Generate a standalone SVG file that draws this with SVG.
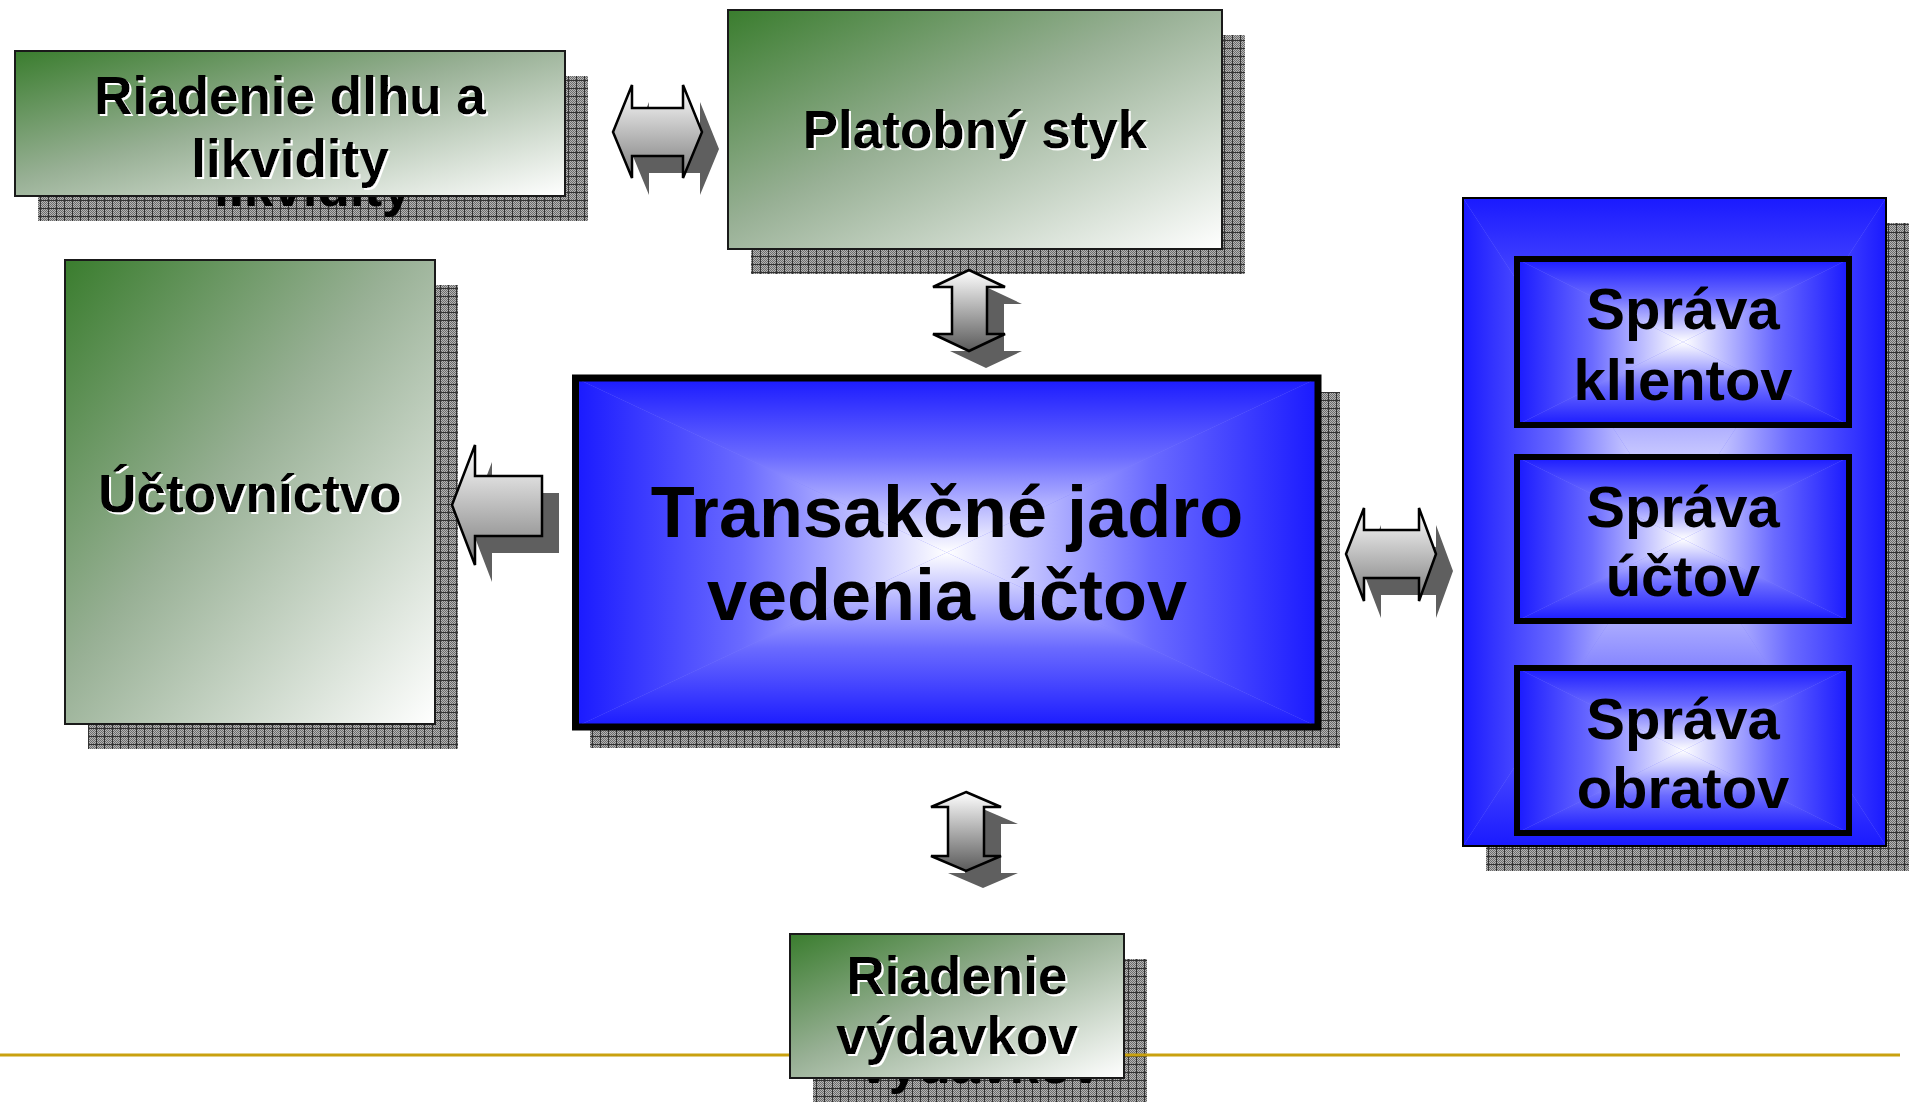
<svg xmlns="http://www.w3.org/2000/svg" width="1912" height="1102" viewBox="0 0 1912 1102">
<defs>
<style>
.t{font-family:"Liberation Sans",Arial,Helvetica,sans-serif;font-weight:bold;fill:#000;text-anchor:middle}
.g{font-size:53px;filter:url(#ws)}
.big{font-size:72px}
.sp{font-size:58px}
.box{stroke:#1a1a1a;stroke-width:2}
.shd{fill:url(#hatch)}
.arr{stroke:#000;stroke-width:2.5;stroke-linejoin:miter}
.ash{fill:#5f5f5f}
</style>
<pattern id="dith" width="2" height="2" patternUnits="userSpaceOnUse"><rect width="2" height="2" fill="#b4b4b4"/><rect width="1" height="1" fill="#6c6c6c"/><rect x="1" y="1" width="1" height="1" fill="#6c6c6c"/></pattern>
<pattern id="hatch" width="8" height="8" patternUnits="userSpaceOnUse"><rect width="8" height="8" fill="url(#dith)"/><path d="M0 0.5H8M0.5 0V8" stroke="#333" stroke-width="1"/></pattern>
<filter id="ws" x="-5%" y="-10%" width="115%" height="130%"><feDropShadow dx="2" dy="2" stdDeviation="0" flood-color="#fff" flood-opacity="1"/></filter>
<linearGradient id="green" x1="0" y1="0" x2="1" y2="1"><stop offset="0" stop-color="#3a7d2e"/><stop offset="0.45" stop-color="#98b095"/><stop offset="1" stop-color="#ffffff"/></linearGradient>
<linearGradient id="bT" x1="0" y1="0" x2="0" y2="1"><stop offset="0" stop-color="#1a1aff"/><stop offset="0.45" stop-color="#6a6aff"/><stop offset="1" stop-color="#ffffff"/></linearGradient>
<linearGradient id="bB" x1="0" y1="1" x2="0" y2="0"><stop offset="0" stop-color="#1a1aff"/><stop offset="0.45" stop-color="#6a6aff"/><stop offset="1" stop-color="#ffffff"/></linearGradient>
<linearGradient id="bL" x1="0" y1="0" x2="1" y2="0"><stop offset="0" stop-color="#1a1aff"/><stop offset="0.45" stop-color="#6a6aff"/><stop offset="1" stop-color="#ffffff"/></linearGradient>
<linearGradient id="bR" x1="1" y1="0" x2="0" y2="0"><stop offset="0" stop-color="#1a1aff"/><stop offset="0.45" stop-color="#6a6aff"/><stop offset="1" stop-color="#ffffff"/></linearGradient>
<linearGradient id="agH" x1="0" y1="0" x2="0" y2="1"><stop offset="0" stop-color="#ffffff"/><stop offset="1" stop-color="#7c7c7c"/></linearGradient>
<linearGradient id="agV" x1="0" y1="0" x2="0" y2="1"><stop offset="0" stop-color="#ffffff"/><stop offset="1" stop-color="#5a5a5a"/></linearGradient>
<clipPath id="c1"><rect x="38" y="76" width="550" height="145"/></clipPath>
<clipPath id="c2"><rect x="813" y="959" width="334" height="144"/></clipPath>
</defs>
<rect width="1912" height="1102" fill="#fff"/>

<g id="shadows">
<rect class="shd" x="38" y="76" width="550" height="145"/>
<text class="t" x="313" y="206" font-size="53" clip-path="url(#c1)">likvidity</text>
<rect class="shd" x="751" y="35" width="494" height="239"/>
<rect class="shd" x="88" y="285" width="370" height="464"/>
<rect class="shd" x="590" y="392" width="750" height="356"/>
<rect class="shd" x="1486" y="223" width="423" height="648"/>
<rect class="shd" x="813" y="959" width="334" height="144"/>
<text class="t" x="980" y="1083" font-size="53" clip-path="url(#c2)">výdavkov</text>
</g>

<line x1="0" y1="1055" x2="1900" y2="1055" stroke="#c9a10f" stroke-width="3"/>

<g id="connectors">
<g id="a1">
<polygon class="ash" transform="translate(17,17)" points="613,132 632,85 632,108 683,108 683,85 702,132 683,178 683,156 632,156 632,178"/>
<polygon class="arr" fill="url(#agH)" points="613,132 632,85 632,108 683,108 683,85 702,132 683,178 683,156 632,156 632,178"/>
</g>
<g id="a2">
<polygon class="ash" transform="translate(17,17)" points="969,270 1005,287 987,287 987,334 1005,334 969,351 933,334 952,334 952,287 933,287"/>
<polygon class="arr" fill="url(#agV)" points="969,270 1005,287 987,287 987,334 1005,334 969,351 933,334 952,334 952,287 933,287"/>
</g>
<g id="a3">
<polygon class="ash" transform="translate(17,17)" points="452,505 475,445 475,476 542,476 542,536 475,536 475,565"/>
<polygon class="arr" fill="url(#agH)" points="452,505 475,445 475,476 542,476 542,536 475,536 475,565"/>
</g>
<g id="a4">
<polygon class="ash" transform="translate(17,17)" points="1346,554 1364,508 1364,530 1419,530 1419,508 1436,554 1419,601 1419,578 1364,578 1364,601"/>
<polygon class="arr" fill="url(#agH)" points="1346,554 1364,508 1364,530 1419,530 1419,508 1436,554 1419,601 1419,578 1364,578 1364,601"/>
</g>
<g id="a5">
<polygon class="ash" transform="translate(17,17)" points="966,792 1001,807 984,807 984,856 1001,856 966,871 931,856 948,856 948,807 931,807"/>
<polygon class="arr" fill="url(#agV)" points="966,792 1001,807 984,807 984,856 1001,856 966,871 931,856 948,856 948,807 931,807"/>
</g>
</g>

<g id="riadenie-dlhu">
<rect class="box" x="15" y="51" width="550" height="145" fill="url(#green)"/>
<text class="t g" x="290" y="114">Riadenie dlhu a</text>
<text class="t g" x="290" y="177">likvidity</text>
</g>

<g id="platobny-styk">
<rect class="box" x="728" y="10" width="494" height="239" fill="url(#green)"/>
<text class="t g" x="975" y="148">Platobný styk</text>
</g>

<g id="uctovnictvo">
<rect class="box" x="65" y="260" width="370" height="464" fill="url(#green)"/>
<text class="t g" x="250" y="512">Účtovníctvo</text>
</g>

<g id="transakcne-jadro">
<rect x="575.5" y="378" width="742.5" height="349" fill="#8080ff"/>
<polygon fill="url(#bT)" points="575.5,378 1318,378 946.75,552.5"/>
<polygon fill="url(#bB)" points="575.5,727 1318,727 946.75,552.5"/>
<polygon fill="url(#bL)" points="575.5,378 575.5,727 946.75,552.5"/>
<polygon fill="url(#bR)" points="1318,378 1318,727 946.75,552.5"/>
<rect x="575.5" y="378" width="742.5" height="349" fill="none" stroke="#000" stroke-width="7"/>
<text class="t big" x="947" y="537">Transakčné jadro</text>
<text class="t big" x="947" y="620">vedenia účtov</text>
</g>

<g id="sprava">
<rect x="1463" y="198" width="423" height="648" fill="#8080ff"/>
<polygon fill="url(#bT)" points="1463,198 1886,198 1674.5,522"/>
<polygon fill="url(#bB)" points="1463,846 1886,846 1674.5,522"/>
<polygon fill="url(#bL)" points="1463,198 1463,846 1674.5,522"/>
<polygon fill="url(#bR)" points="1886,198 1886,846 1674.5,522"/>
<rect x="1463" y="198" width="423" height="648" fill="none" stroke="#000" stroke-width="2"/>
</g>

<g id="sprava-klientov">
<rect x="1517" y="259" width="332" height="166" fill="#8080ff"/>
<polygon fill="url(#bT)" points="1517,259 1849,259 1683,342"/>
<polygon fill="url(#bB)" points="1517,425 1849,425 1683,342"/>
<polygon fill="url(#bL)" points="1517,259 1517,425 1683,342"/>
<polygon fill="url(#bR)" points="1849,259 1849,425 1683,342"/>
<rect x="1517" y="259" width="332" height="166" fill="none" stroke="#000" stroke-width="6"/>
<text class="t sp" x="1683" y="329">Správa</text>
<text class="t sp" x="1683" y="400">klientov</text>
</g>

<g id="sprava-uctov">
<rect x="1517" y="457" width="332" height="164" fill="#8080ff"/>
<polygon fill="url(#bT)" points="1517,457 1849,457 1683,539"/>
<polygon fill="url(#bB)" points="1517,621 1849,621 1683,539"/>
<polygon fill="url(#bL)" points="1517,457 1517,621 1683,539"/>
<polygon fill="url(#bR)" points="1849,457 1849,621 1683,539"/>
<rect x="1517" y="457" width="332" height="164" fill="none" stroke="#000" stroke-width="6"/>
<text class="t sp" x="1683" y="527">Správa</text>
<text class="t sp" x="1683" y="596">účtov</text>
</g>

<g id="sprava-obratov">
<rect x="1517" y="668" width="332" height="165" fill="#8080ff"/>
<polygon fill="url(#bT)" points="1517,668 1849,668 1683,750.5"/>
<polygon fill="url(#bB)" points="1517,833 1849,833 1683,750.5"/>
<polygon fill="url(#bL)" points="1517,668 1517,833 1683,750.5"/>
<polygon fill="url(#bR)" points="1849,668 1849,833 1683,750.5"/>
<rect x="1517" y="668" width="332" height="165" fill="none" stroke="#000" stroke-width="6"/>
<text class="t sp" x="1683" y="739">Správa</text>
<text class="t sp" x="1683" y="808">obratov</text>
</g>

<g id="riadenie-vydavkov">
<rect class="box" x="790" y="934" width="334" height="144" fill="url(#green)"/>
<text class="t g" x="957" y="994">Riadenie</text>
<text class="t g" x="957" y="1054">výdavkov</text>
</g>
</svg>
